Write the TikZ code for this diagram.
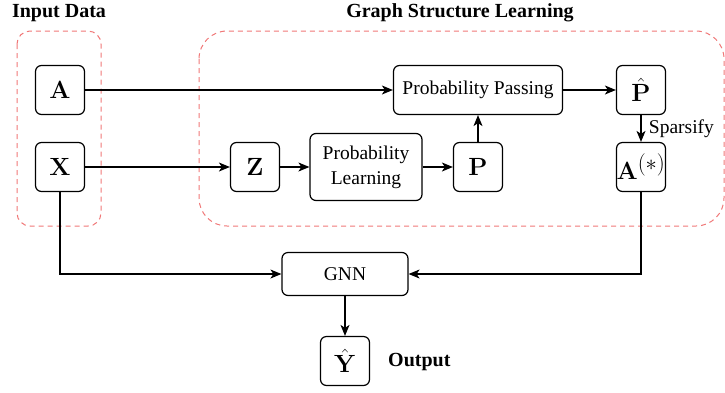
\documentclass[tikz,border=0pt]{standalone}
\usepackage[no-math]{fontspec}
\setmainfont{Liberation Serif}
\usepackage{graphicx}
\usetikzlibrary{arrows.meta}
\definecolor{dashred}{RGB}{240,120,120}
\begin{document}
\begin{tikzpicture}[x=1pt,y=-1pt,
  box/.style={draw=black,line width=1.2pt,rounded corners=6pt,fill=white,inner sep=0pt,align=center,font=\fontsize{19.5}{25}\selectfont},
  sq/.style={box,minimum width=49pt,minimum height=49pt,font=\fontsize{24}{28}\selectfont},
  group/.style={draw=dashred,line width=1pt,dash pattern=on 5pt off 4pt},
  title/.style={font=\fontsize{20}{24}\selectfont\bfseries,inner sep=0pt},
  conn/.style={line width=1.2pt,-{Stealth[length=11pt,width=9pt,inset=3pt]}}]
\useasboundingbox (0,0) rectangle (725,392);
% groups
\draw[group,rounded corners=13pt] (17,31) rectangle (101,226);
\draw[group,rounded corners=28pt] (199,31) rectangle (724,226);
\node[title] (tin) at (59,13) {Input Data};
\node[title] (tgsl) at (460,13) {Graph Structure Learning};
% nodes
\node[sq] (A) at (60,90) {$\mathbf{A}$};
\node[sq] (X) at (60,167) {$\mathbf{X}$};
\node[sq] (Z) at (255,167) {$\mathbf{Z}$};
\node[box,minimum width=112pt,minimum height=67pt] (PL) at (366,167) {Probability\\Learning};
\node[sq] (P) at (478,167) {$\mathbf{P}$};
\node[box,minimum width=169pt,minimum height=49pt] (PP) at (478,90) {Probability Passing};
\node[sq] (Ph) at (641,90) {$\hat{\mathbf{P}}$};
\node[sq] (As) at (641,167) {$\mathbf{A}^{\scalebox{1.3}{$\scriptstyle(*)$}}$};
\node[box,minimum width=126pt,minimum height=43pt] (GNN) at (345,274) {GNN};
\node[sq] (Y) at (345,361) {$\hat{\mathbf{Y}}$};
\node[title,anchor=west] (out) at (388,362) {Output};
% connectors
\draw[conn] (A.east) -- (PP.west);
\draw[conn] (X.east) -- (Z.west);
\draw[conn] (Z.east) -- (PL.west);
\draw[conn] (PL.east) -- (P.west);
\draw[conn] (P.north) -- (PP.south);
\draw[conn] (PP.east) -- (Ph.west);
\draw[conn] (Ph.south) -- node[right,xshift=4pt,font=\fontsize{19.5}{24}\selectfont] (sp) {Sparsify} (As.north);
\draw[conn] (X.south) |- (GNN.west);
\draw[conn] (As.south) |- (GNN.east);
\draw[conn] (GNN.south) -- (Y.north);
\end{tikzpicture}
\end{document}
